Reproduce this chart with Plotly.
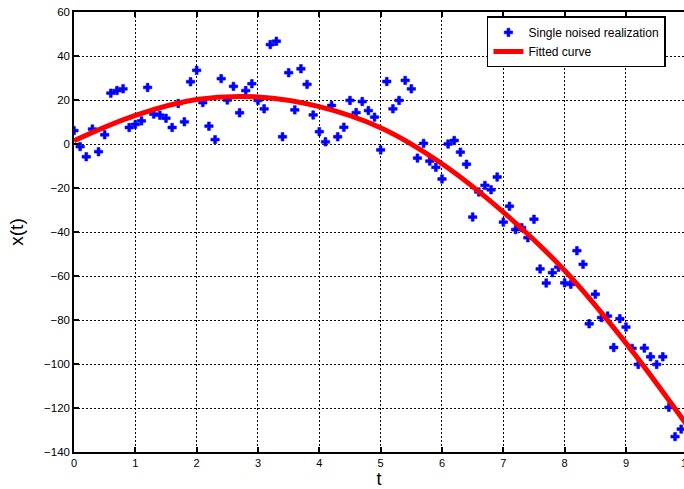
import plotly.graph_objects as go

# ---- data ----
t_points = [round(0.1 * i, 1) for i in range(100)]
x_noisy = [
    6.1, -1.2, -5.8, 6.8, -3.5, 4.2, 23.1, 24.3, 25.1, 7.5,
    8.9, 10.5, 25.7, 13.6, 13.1, 11.7, 7.5, 18.4, 10.1, 28.3,
    33.5, 18.8, 8.1, 2.0, 29.7, 20.0, 26.2, 14.2, 24.3, 27.4,
    19.8, 16.0, 45.2, 46.7, 3.3, 32.4, 15.5, 34.2, 27.1, 13.2,
    5.6, 1.0, 17.5, 3.3, 7.6, 19.8, 14.3, 19.3, 15.2, 12.2,
    -2.7, 28.4, 16.0, 19.8, 28.9, 25.1, -6.4, 0.3, -7.8, -10.6,
    -15.9, 0.0, 1.6, -3.7, -9.2, -33.2, -21.8, -18.8, -20.8, -15.0,
    -35.5, -28.3, -38.9, -38.0, -42.6, -34.2, -56.8, -63.2, -58.5, -56.0,
    -63.1, -63.8, -48.5, -54.7, -81.7, -68.3, -78.9, -78.2, -92.5, -79.4,
    -83.2, -92.9, -100.2, -92.8, -96.7, -100.2, -96.7, -119.7, -133.0, -129.6,
]
t_curve = [0, 1, 2, 3, 4, 5, 6, 7, 8, 9, 10]
x_curve = [1.5, 13.0, 20.2, 21.4, 17.0, 7.4, -9.0, -31.0, -57.5, -90.5, -128.0]

x_ticks = [0, 1, 2, 3, 4, 5, 6, 7, 8, 9, 10]
y_ticks = [60, 40, 20, 0, -20, -40, -60, -80, -100, -120, -140]
y_tick_text = ["60", "40", "20", "0", "\u221220", "\u221240", "\u221260",
               "\u221280", "\u2212100", "\u2212120", "\u2212140"]

X_MAX_VISIBLE = 9.946
FONT = "Liberation Sans, Arial, sans-serif"

fig = go.Figure()
fig.add_trace(go.Scatter(
    x=t_points, y=x_noisy, mode="markers",
    name="Single noised realization",
    marker=dict(symbol="cross", size=7, color="#0000ff",
                line=dict(color="#0000ff", width=0.6)),
))
fig.add_trace(go.Scatter(
    x=t_curve, y=x_curve, mode="lines", name="Fitted curve",
    line=dict(color="#ff0000", width=5, shape="spline", smoothing=1.0),
))

grid = dict(showgrid=True, gridcolor="black", gridwidth=1, griddash="1.5px,2.5px")

fig.update_xaxes(
    range=[0, X_MAX_VISIBLE], tickvals=x_ticks, ticktext=[str(v) for v in x_ticks],
    showline=True, linecolor="black", linewidth=1.5, mirror="ticks",
    ticks="inside", ticklen=5, tickwidth=1.5, tickcolor="black",
    zeroline=False, tickfont=dict(family=FONT, size=11, color="black"),
    title=dict(text="t", font=dict(family=FONT, size=18, color="black"), standoff=6),
    **grid,
)
fig.update_yaxes(
    range=[-140, 60], tickvals=y_ticks, ticktext=y_tick_text,
    showline=True, linecolor="black", linewidth=1.5, mirror=False,
    ticks="inside", ticklen=5, tickwidth=1.5, tickcolor="black",
    zeroline=False, tickfont=dict(family=FONT, size=11.5, color="black"),
    title=dict(text="x(t)", font=dict(family=FONT, size=19, color="black"), standoff=15),
    **grid,
)

# partially visible "10" tick label at the cropped right edge
fig.add_annotation(
    x=x_ticks[-1] / X_MAX_VISIBLE, xref="paper", y=0, yref="paper",
    yanchor="top", xanchor="center", yshift=-3, showarrow=False,
    text=str(x_ticks[-1]), font=dict(family=FONT, size=11, color="black"),
)

fig.update_layout(
    width=684, height=489,
    margin=dict(l=74, r=0, t=12, b=37),
    paper_bgcolor="white", plot_bgcolor="white",
    font=dict(family=FONT, color="black"),
    showlegend=True,
    legend=dict(
        x=0.677, y=0.99, xanchor="left", yanchor="top",
        bgcolor="white", bordercolor="black", borderwidth=1.5,
        font=dict(family=FONT, size=12, color="black"),
        tracegroupgap=0, itemwidth=30,
    ),
)

fig.write_html("out.html", config={"displayModeBar": False},
               post_script="document.body.style.margin='0px';")
